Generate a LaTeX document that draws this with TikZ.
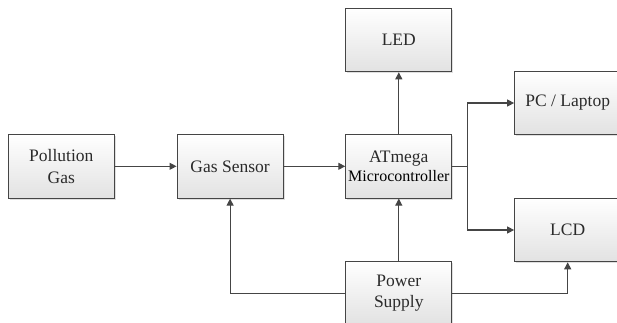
\documentclass[tikz,border=0pt]{standalone}
\usepackage{fontspec}
\setmainfont{Liberation Serif}
\usepackage{tikz}
\usetikzlibrary{arrows.meta, positioning, shadows}
\definecolor{linegray}{HTML}{454545}
\definecolor{textgray}{HTML}{2A2A2A}
\definecolor{boxshade}{HTML}{E2E2E2}

\begin{document}
\begin{tikzpicture}[x=1pt, y=-1pt, >={Triangle[length=7pt, width=7pt]},
  block/.style={draw=linegray, line width=1.1pt, top color=white, bottom color=boxshade,
    minimum width=106pt, minimum height=63.5pt, align=center, inner sep=0pt,
    text=textgray, font=\fontsize{17.5}{21.5}\selectfont,
    drop shadow={shadow xshift=1.5pt, shadow yshift=-1.5pt, fill=black!25}},
  link/.style={->, draw=linegray, line width=1.1pt}]
\useasboundingbox (0,0) rectangle (617,322);
\clip (0,0) rectangle (617,322);
% —— 主链 ——
\node[block] (pollution) at (61.3,166.3) {Pollution\\Gas};
\node[block] (sensor) at (230.1,166.3) {Gas Sensor};
\node[block] (mcu) at (398.8,166.3) {ATmega\\[-3pt]{\fontsize{16}{17}\selectfont\color{black}Microcontroller}};
% —— 输出 ——
\node[block] (led) at (398.8,40) {LED};
\node[block] (pc) at (567.7,103) {PC / Laptop};
\node[block] (lcd) at (567.7,230) {LCD};
% —— 电源 ——
\node[block] (power) at (398.8,293.3) {Power\\Supply};
\coordinate (split) at (467.3,166.3);
% 连线
\draw[link] (pollution) -- (sensor);
\draw[link] (sensor) -- (mcu);
\draw[link] (mcu) -- (led);
\draw[line width=1.1pt, linegray] (mcu.east) -- (split);
\draw[link] (split) |- (pc.west);
\draw[link] (split) |- (lcd.west);
\draw[link] (power) -- (mcu);
\draw[link] (power.west) -| (sensor.south);
\draw[link] (power.east) -| (lcd.south);
\end{tikzpicture}
\end{document}
